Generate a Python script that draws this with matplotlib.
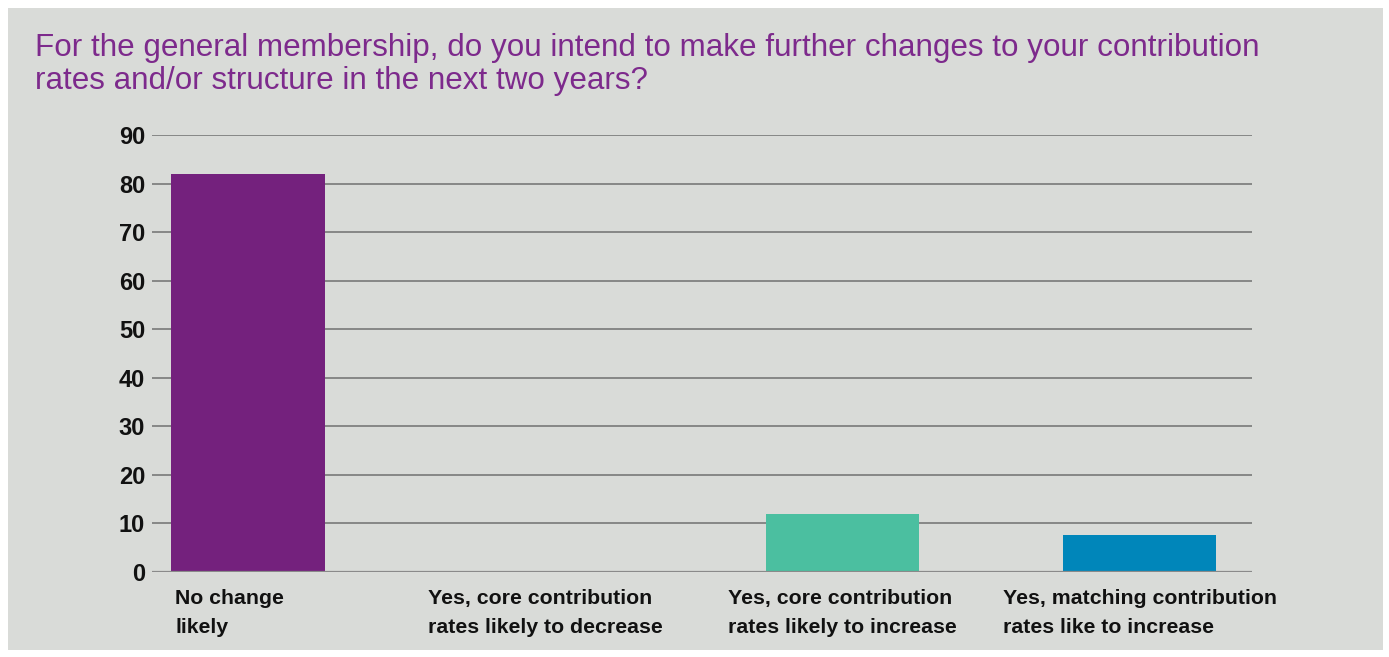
import matplotlib

matplotlib.use("Agg")
import matplotlib.pyplot as plt
from matplotlib.patches import Rectangle

# survey answers (percent of respondents)
categories = [
    "No change\nlikely",
    "Yes, core contribution\nrates likely to decrease",
    "Yes, core contribution\nrates likely to increase",
    "Yes, matching contribution\nrates like to increase",
]
values = [82, 0, 12, 7.6]
bar_colors = ["#74217D", "#8A4B91", "#4BBFA0", "#0086BA"]
yticks = [0, 10, 20, 30, 40, 50, 60, 70, 80, 90]

TITLE = ("For the general membership, do you intend to make further changes to your contribution\n"
         "rates and/or structure in the next two years?")

PANEL = "#D9DBD8"
W, H = 1389, 657

plt.rcParams["font.family"] = ["Liberation Sans", "DejaVu Sans"]

fig = plt.figure(figsize=(W / 100, H / 100), dpi=100)
fig.patch.set_facecolor("white")
fig.add_artist(Rectangle((8 / W, 7 / H), 1375 / W, 642 / H, transform=fig.transFigure,
                         facecolor=PANEL, edgecolor="none", zorder=-10))

ax = fig.add_axes([152 / W, 1 - 572 / H, 1100 / W, 437 / H])
ax.set_facecolor("none")

x = list(range(len(categories)))
bar_w = 0.515
ax.bar(x, values, width=bar_w, color=bar_colors, zorder=3)

ax.set_xlim(-0.323, 3.377)
ax.set_ylim(0, 90)
ax.set_yticks(yticks)
ax.set_yticklabels([str(t) for t in yticks], fontsize=17, fontweight="bold", color="#111111")
ax.tick_params(axis="y", length=0, pad=5)
ax.set_xticks([])
for s in ax.spines.values():
    s.set_visible(False)
for t in yticks:
    ax.axhline(t, color="#8A8A8A" if t == 0 else "#707070",
               lw=1.6 if t == 0 else 1.1, zorder=1 if t else 4)

# category labels under the bars
for i, lab in enumerate(categories):
    if i == 0:
        xpos, ha = i - bar_w / 2 + 0.013, "left"
    else:
        xpos, ha = i, "center"
    ax.annotate(lab, xy=(xpos, 0), xycoords=("data", "axes fraction"),
                xytext=(0, -12), textcoords="offset points",
                ha=ha, va="top", multialignment="left",
                fontsize=15.3, fontweight="bold", color="#111111", linespacing=1.72)

fig.text(35 / W, 1 - 33 / H, TITLE, ha="left", va="top", fontsize=22.6,
         color="#7D2A8C", linespacing=1.13)

fig.savefig("out.png", dpi=100)
